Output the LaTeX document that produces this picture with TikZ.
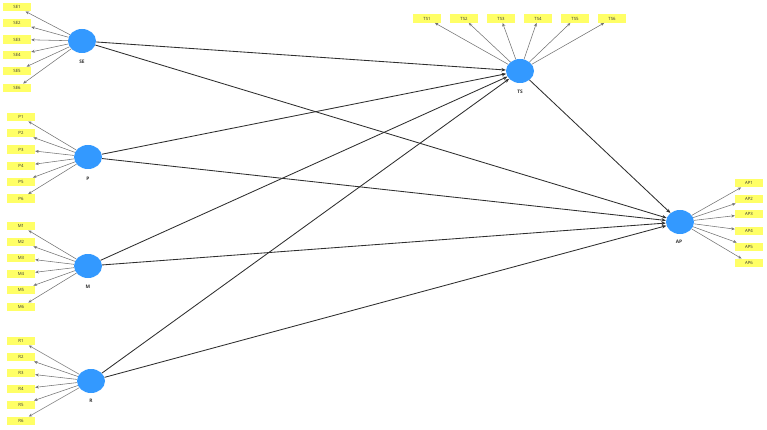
\documentclass[tikz,border=0pt]{standalone}
\usepackage{fontspec}
\setmainfont{Open Sans}
\usetikzlibrary{shapes.geometric,arrows.meta}
\definecolor{lvblue}{HTML}{3399FF}
\definecolor{indyellow}{HTML}{FFFF66}
\tikzset{
  latent/.style={ellipse,fill=lvblue,draw=none,minimum width=28pt,minimum height=24pt,inner sep=0pt},
  lvlabel/.style={font=\fontsize{4.8}{6}\selectfont\bfseries,text=black!80,inner sep=0pt},
  indicator/.style={rectangle,fill=indyellow,draw=none,minimum width=28pt,minimum height=8.5pt,inner sep=0pt,font=\fontsize{4.3}{5}\selectfont,text=black!80},
  loading/.style={draw=black!55,line width=0.55pt,-{Stealth[length=3.5pt,width=3pt]}},
  path/.style={draw=black!82,line width=0.85pt,-{Stealth[length=4.5pt,width=3.5pt]}}
}
\begin{document}
\begin{tikzpicture}[x=1pt,y=-1pt]
\useasboundingbox (0,0) rectangle (767,430);
% latent variables
\node[latent] (SE) at (82,41) {};
\node[latent] (P) at (88,157) {};
\node[latent] (M) at (88,266) {};
\node[latent] (R) at (91,381) {};
\node[latent] (TS) at (520,71) {};
\node[latent] (AP) at (680,222) {};
\node[lvlabel] (SElab) at (82,62) {SE};
\node[lvlabel] (Plab) at (88,179) {P};
\node[lvlabel] (Mlab) at (88,287) {M};
\node[lvlabel] (Rlab) at (91,401) {R};
\node[lvlabel] (TSlab) at (520,92) {TS};
\node[lvlabel] (APlab) at (679,242) {AP};
% indicators
\foreach \i/\y in {1/7,2/23,3/39.5,4/55,5/71,6/88}{
  \node[indicator] (SE\i) at (17,\y) {SE\i};
  \draw[loading] (SE) -- (SE\i);
}
\foreach \i/\y in {1/117,2/133,3/149.5,4/166,5/182,6/198.5}{
  \node[indicator] (P\i) at (21,\y) {P\i};
  \draw[loading] (P) -- (P\i);
}
\foreach \i/\y in {1/226,2/242,3/258,4/274,5/290,6/307}{
  \node[indicator] (M\i) at (21,\y) {M\i};
  \draw[loading] (M) -- (M\i);
}
\foreach \i/\y in {1/341,2/357,3/373,4/389,5/405,6/421}{
  \node[indicator] (R\i) at (21,\y) {R\i};
  \draw[loading] (R) -- (R\i);
}
\foreach \i/\x in {1/427,2/464,3/501,4/538,5/575,6/612}{
  \node[indicator] (TS\i) at (\x,18.5) {TS\i};
  \draw[loading] (TS) -- (TS\i);
}
\foreach \i/\y in {1/183,2/199,3/214,4/231,5/247,6/263}{
  \node[indicator] (AP\i) at (749,\y) {AP\i};
  \draw[loading] (AP) -- (AP\i);
}
% structural paths
\foreach \s in {SE,P,M,R}{
  \draw[path] (\s) -- (TS);
  \draw[path] (\s) -- (AP);
}
\draw[path] (TS) -- (AP);
\end{tikzpicture}
\end{document}
